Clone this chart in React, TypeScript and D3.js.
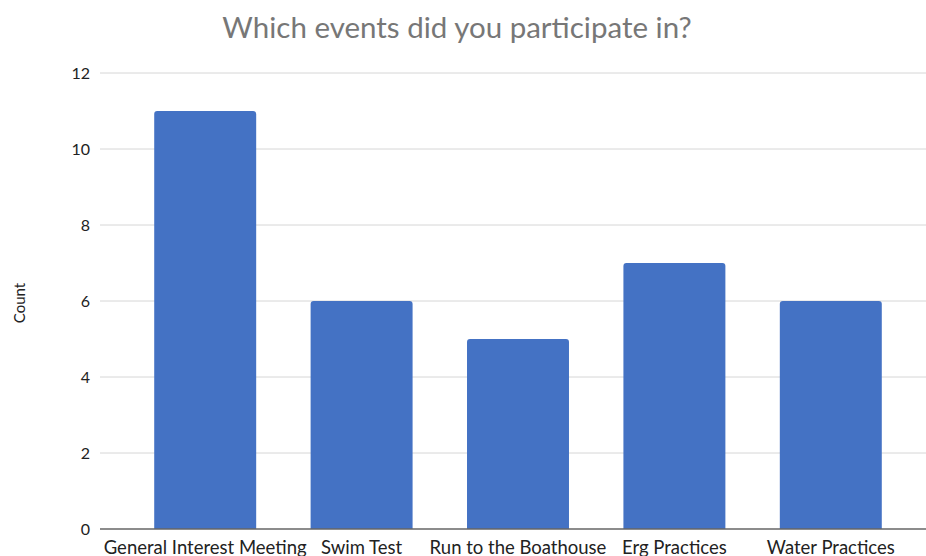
import React from "react";
import * as d3 from "d3";

const categories = ["General Interest Meeting", "Swim Test", "Run to the Boathouse", "Erg Practices", "Water Practices"];
const counts = [11, 6, 5, 7, 6];
const yTicks = [0, 2, 4, 6, 8, 10, 12];

const W = 926;
const H = 556;
const FONT = "Lato, 'Open Sans', sans-serif";

export default function App() {
  const x = d3.scaleBand<string>().domain(categories).range([127, 909]).paddingInner(0.348).paddingOuter(0.174);
  const y = d3.scaleLinear().domain([0, 12]).range([529, 73]);
  return (
    <svg width={W} height={H} style={{ position: "absolute", left: 0, top: 0, background: "#fff" }}>
      <text x={457} y={38} textAnchor="middle" fontFamily={FONT} fontSize={29.5} fill="#777">
        Which events did you participate in?
      </text>
      {yTicks.map((t) => (
        <g key={t}>
          {t !== 0 && <line x1={100} x2={926} y1={y(t)} y2={y(t)} stroke="#d6d6d6" strokeWidth={1} />}
          <text x={90} y={y(t)} dy="0.35em" textAnchor="end" fontFamily={FONT} fontSize={16} fill="#222">
            {t}
          </text>
        </g>
      ))}
      {categories.map((c, i) => {
        const x0 = x(c)!;
        const w = x.bandwidth();
        const y0 = y(counts[i]);
        const y1 = y(0);
        const r = 3;
        const d = `M${x0},${y1} L${x0},${y0 + r} Q${x0},${y0} ${x0 + r},${y0} L${x0 + w - r},${y0} Q${x0 + w},${y0} ${x0 + w},${y0 + r} L${x0 + w},${y1} Z`;
        return <path key={c} d={d} fill="#4472C4" />;
      })}
      <line x1={100} x2={926} y1={y(0)} y2={y(0)} stroke="#666" strokeWidth={1.5} />
      {categories.map((c) => (
        <text key={c} x={x(c)! + x.bandwidth() / 2} y={553.5} textAnchor="middle" fontFamily={FONT} fontSize={18.5} fill="#222">
          {c}
        </text>
      ))}
      <text transform={`translate(25,303) rotate(-90)`} textAnchor="middle" fontFamily={FONT} fontSize={15} fill="#222">
        Count
      </text>
    </svg>
  );
}
